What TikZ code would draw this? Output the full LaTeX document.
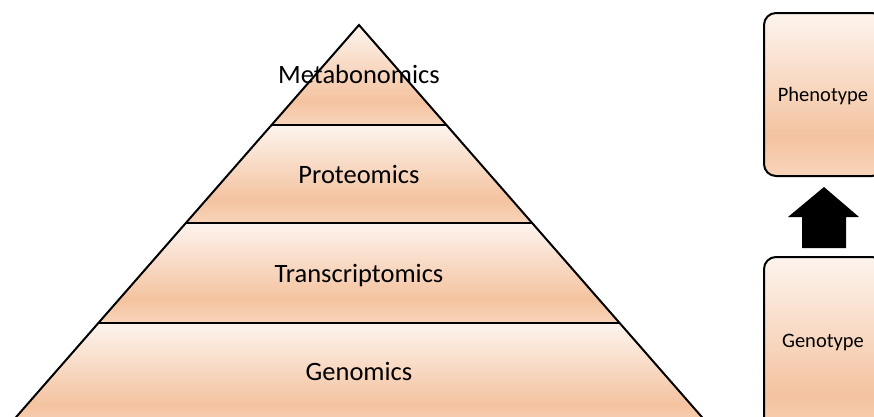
\documentclass[tikz,border=0pt]{standalone}
\usepackage{fontspec}
\setmainfont{Carlito}
\definecolor{ptop}{HTML}{FDF4EE}
\definecolor{pmid}{HTML}{F4C3A0}
\definecolor{pbot}{HTML}{F8D4BA}
\pgfdeclareverticalshading{peach}{100bp}{color(0bp)=(pbot); color(25bp)=(pbot); color(37bp)=(pmid); color(75bp)=(ptop); color(100bp)=(ptop)}
\tikzset{
  layer/.style={shading=peach},
  outline/.style={draw=black, line width=2pt, line join=miter},
  biglabel/.style={anchor=base, font=\fontsize{26.5}{30}\selectfont, inner sep=0pt},
  smalllabel/.style={anchor=base, font=\fontsize{20.5}{24}\selectfont, inner sep=0pt},
  boxshape/.style={shading=peach, draw=black, line width=2pt, rounded corners=12pt},
  blockarrow/.style={fill=black, draw=none}
}
\begin{document}
\begin{tikzpicture}[x=1pt,y=-1pt]
\useasboundingbox (0,0) rectangle (874,416);
\clip (0,0) rectangle (874,416);
% pyramid layers
\path[layer] (359,25) -- (446.5,125) -- (271.5,125) -- cycle;
\path[layer] (271.5,125) -- (446.5,125) -- (532.2,223) -- (185.8,223) -- cycle;
\path[layer] (185.8,223) -- (532.2,223) -- (619.6,323) -- (98.4,323) -- cycle;
\path[layer] (98.4,323) -- (619.6,323) -- (713.2,430) -- (4.8,430) -- cycle;
% outline
\draw[outline] (4.8,430) -- (359,25) -- (713.2,430);
\draw[outline] (271.5,125) -- (446.5,125);
\draw[outline] (185.8,223) -- (532.2,223);
\draw[outline] (98.4,323) -- (619.6,323);
% labels
\node[biglabel] (meta) at (359,83) {Metabonomics};
\node[biglabel] (prot) at (359,183) {Proteomics};
\node[biglabel] (trans) at (359,282) {Transcriptomics};
\node[biglabel] (gen) at (359,380) {Genomics};
% boxes
\path[boxshape] (764,13) rectangle (884,176);
\path[boxshape] (764,257) rectangle (884,440);
\node[smalllabel] (pheno) at (823,101) {Phenotype};
\node[smalllabel] (geno) at (823,347) {Genotype};
% arrow
\path[blockarrow] (824,187) -- (859,217) -- (846,217) -- (846,248) -- (802,248) -- (802,217) -- (788,217) -- cycle;
\end{tikzpicture}
\end{document}
